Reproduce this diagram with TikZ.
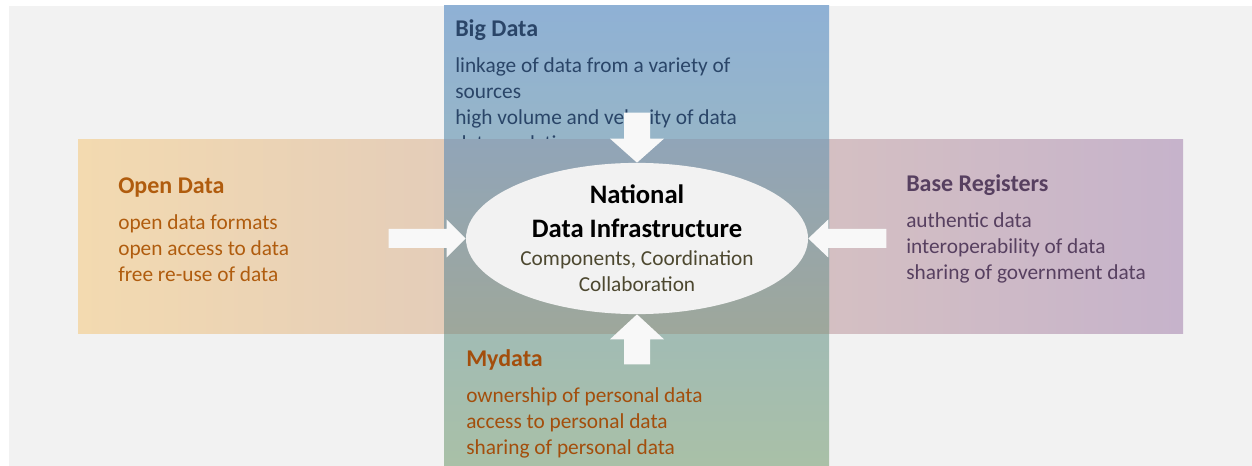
\documentclass[tikz,border=0pt]{standalone}
\usepackage{fontspec}
\setmainfont{Carlito}
\usetikzlibrary{shapes.geometric}

\definecolor{pagegray}{HTML}{F2F2F2}
\definecolor{bigblue}{HTML}{8FB1D5}
\definecolor{mygreen}{HTML}{A9C0A7}
\definecolor{openorange}{HTML}{F3DAB0}
\definecolor{basepurple}{HTML}{C6B3CB}
\definecolor{crosstop}{HTML}{91A5B8}
\definecolor{crossbottom}{HTML}{9EA79B}
\definecolor{bigtext}{HTML}{2A4568}
\definecolor{opentext}{HTML}{B05C0E}
\definecolor{basetext}{HTML}{574060}
\definecolor{mytext}{HTML}{A34E0C}
\definecolor{ndisub}{HTML}{4D4830}

% topic boxes sit on the baseline of their last line
\tikzset{
  topic/.style={anchor=base west, inner sep=0pt, align=left, font=\fontsize{16}{19.5}\selectfont},
  blockarrow/.style={fill=pagegray!50!white},
}
\newcommand{\topichead}[1]{{\fontsize{18}{19.5}\selectfont\bfseries #1}\\[7.5pt]}

\begin{document}
\begin{tikzpicture}[x=0.75pt,y=-0.75pt]

\useasboundingbox (0,0) rectangle (1252,466);
\fill [pagegray] (9,6) rectangle (1252,466);

% open data -> base registers band
\shade [left color=openorange, right color=basepurple] (78,140) rectangle (1183,334);
% big data -> mydata band
\shade [top color=bigblue, bottom color=mygreen] (444,6) rectangle (829,466);

\node [topic, text=bigtext] (bigdata) at (455,150.5)
  {\topichead{Big Data}linkage of data from a variety of\\sources\\high volume and velocity of data\\data analytics};
\node [topic, text=mytext] (mydata) at (466,454)
  {\topichead{Mydata}ownership of personal data\\access to personal data\\sharing of personal data};

% where the two bands cross
\shade [top color=crosstop, bottom color=crossbottom] (444,140) rectangle (829,334);

\node [topic, text=opentext] (opendata) at (118,282)
  {\topichead{Open Data}open data formats\\open access to data\\free re-use of data};
\node [topic, text=basetext] (registers) at (906,280)
  {\topichead{Base Registers}authentic data\\interoperability of data\\sharing of government data};

% the centre
\node [ellipse, fill=pagegray, minimum width=256.5pt, minimum height=99.75pt, inner sep=0pt,
       align=center, font=\fontsize{16}{20}\selectfont] (ndi) at (637,238.5)
  {{\fontsize{20}{20}\selectfont\bfseries National}\\[5.5pt]
   {\fontsize{20}{20}\selectfont\bfseries Data Infrastructure}\\[0.5pt]
   {\color{ndisub}Components, Coordination}\\
   {\color{ndisub}Collaboration}};

% arrows into the centre
\fill [blockarrow, shift={(ndi.north)}] (0,0) -- (27,-24) -- (13,-24) -- (13,-50) -- (-13,-50) -- (-13,-24) -- (-27,-24) -- cycle;
\fill [blockarrow, shift={(ndi.south)}] (0,0) -- (27,25) -- (13,25) -- (13,50) -- (-13,50) -- (-13,25) -- (-27,25) -- cycle;
\fill [blockarrow, shift={(ndi.west)}] (0,0) -- (-19,-19) -- (-19,-9.5) -- (-77,-9.5) -- (-77,9.5) -- (-19,9.5) -- (-19,19) -- cycle;
\fill [blockarrow, shift={(ndi.east)}] (0,0) -- (20,-19) -- (20,-9.5) -- (78,-9.5) -- (78,9.5) -- (20,9.5) -- (20,19) -- cycle;

\end{tikzpicture}
\end{document}
